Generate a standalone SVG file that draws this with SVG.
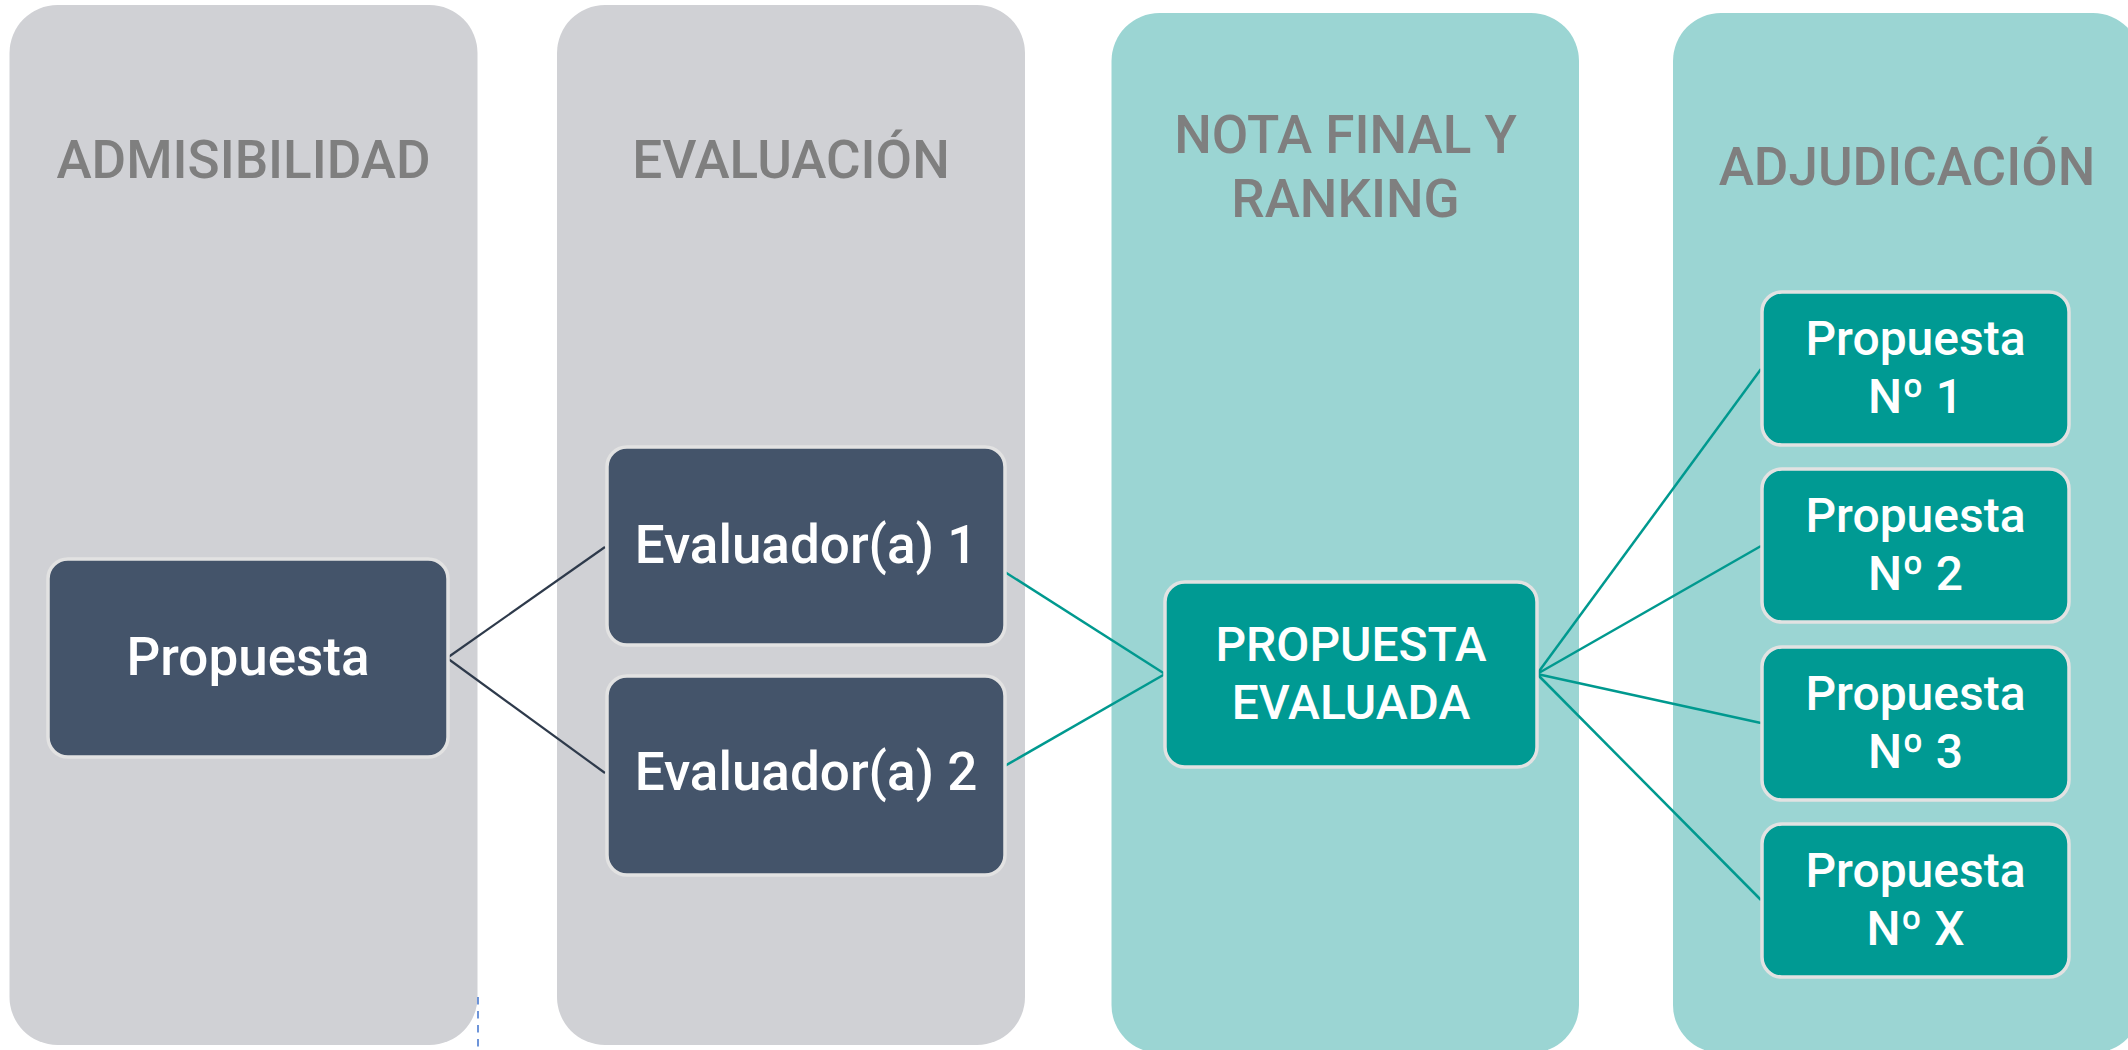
<svg xmlns="http://www.w3.org/2000/svg" width="2128" height="1050" viewBox="0 0 2128 1050">
  <style>
    .lane-gray { fill: #d0d1d5; }
    .lane-teal { fill: #9bd5d3; }
    .title { font-family: Roboto, "Liberation Sans", sans-serif; font-size: 53px; font-weight: 500; fill: #7f7f7f; text-anchor: middle; }
    .node-dark { fill: #44546a; stroke: #e2e2e2; stroke-width: 3.5; }
    .node-teal { fill: #009a93; stroke: #e2e2e2; stroke-width: 3.5; }
    .label { font-family: Roboto, "Liberation Sans", sans-serif; font-weight: 500; fill: #ffffff; text-anchor: middle; }
    .l53 { font-size: 53px; }
    .l48 { font-size: 48px; }
    .conn-dark { stroke: #2e3a4b; stroke-width: 2.2; fill: none; }
    .conn-teal { stroke: #00998f; stroke-width: 2.5; fill: none; }
  </style>
  <rect width="2128" height="1050" fill="#ffffff"/>

  <g id="lane-admisibilidad">
    <rect class="lane-gray" x="9.5" y="5" width="468" height="1040" rx="48" ry="48"/>
    <text class="title" x="243.5" y="178">ADMISIBILIDAD</text>
  </g>
  <g id="lane-evaluacion">
    <rect class="lane-gray" x="557" y="5" width="468" height="1040" rx="48" ry="48"/>
    <text class="title" x="791" y="178">EVALUACIÓN</text>
  </g>
  <g id="lane-nota">
    <rect class="lane-teal" x="1111.5" y="13" width="467.5" height="1040" rx="48" ry="48"/>
    <text class="title" x="1345.5" y="153">NOTA FINAL Y</text>
    <text class="title" x="1345.5" y="217">RANKING</text>
  </g>
  <g id="lane-adjudicacion">
    <rect class="lane-teal" x="1673" y="13" width="468" height="1040" rx="48" ry="48"/>
    <text class="title" x="1907" y="185">ADJUDICACIÓN</text>
  </g>

  <line x1="478" y1="997" x2="478" y2="1050" stroke="#4a7bd0" stroke-width="1.6" stroke-dasharray="7.5 6.5"/>

  <g id="connectors">
    <line class="conn-dark" x1="447" y1="658" x2="605" y2="547"/>
    <line class="conn-dark" x1="447" y1="658" x2="605" y2="773"/>
    <line class="conn-teal" x1="997" y1="567" x2="1165" y2="674"/>
    <line class="conn-teal" x1="996" y1="771" x2="1165" y2="674"/>
    <line class="conn-teal" x1="1537" y1="674" x2="1761" y2="369"/>
    <line class="conn-teal" x1="1537" y1="674" x2="1761" y2="546"/>
    <line class="conn-teal" x1="1537" y1="674" x2="1761" y2="723"/>
    <line class="conn-teal" x1="1537" y1="674" x2="1761" y2="900"/>
  </g>

  <g id="node-propuesta">
    <rect class="node-dark" x="48" y="559" width="400" height="198" rx="20" ry="20"/>
    <text class="label l53" x="248" y="675">Propuesta</text>
  </g>
  <g id="node-evaluador1">
    <rect class="node-dark" x="607" y="447" width="398" height="198" rx="20" ry="20"/>
    <text class="label l53" x="806" y="563">Evaluador(a) 1</text>
  </g>
  <g id="node-evaluador2">
    <rect class="node-dark" x="607" y="676" width="398" height="199" rx="20" ry="20"/>
    <text class="label l53" x="806" y="790">Evaluador(a) 2</text>
  </g>
  <g id="node-propuesta-evaluada">
    <rect class="node-teal" x="1165" y="582" width="372" height="185" rx="20" ry="20"/>
    <text class="label l48" x="1351" y="661">PROPUESTA</text>
    <text class="label l48" x="1351" y="719">EVALUADA</text>
  </g>
  <g id="node-propuesta-n1">
    <rect class="node-teal" x="1762" y="292" width="307" height="153" rx="20" ry="20"/>
    <text class="label l48" x="1915.5" y="355">Propuesta</text>
    <text class="label l48" x="1915.5" y="413">Nº 1</text>
  </g>
  <g id="node-propuesta-n2">
    <rect class="node-teal" x="1762" y="469" width="307" height="153" rx="20" ry="20"/>
    <text class="label l48" x="1915.5" y="532">Propuesta</text>
    <text class="label l48" x="1915.5" y="590">Nº 2</text>
  </g>
  <g id="node-propuesta-n3">
    <rect class="node-teal" x="1762" y="647" width="307" height="153" rx="20" ry="20"/>
    <text class="label l48" x="1915.5" y="710">Propuesta</text>
    <text class="label l48" x="1915.5" y="768">Nº 3</text>
  </g>
  <g id="node-propuesta-nx">
    <rect class="node-teal" x="1762" y="824" width="307" height="153" rx="20" ry="20"/>
    <text class="label l48" x="1915.5" y="887">Propuesta</text>
    <text class="label l48" x="1915.5" y="945">Nº X</text>
  </g>
</svg>
